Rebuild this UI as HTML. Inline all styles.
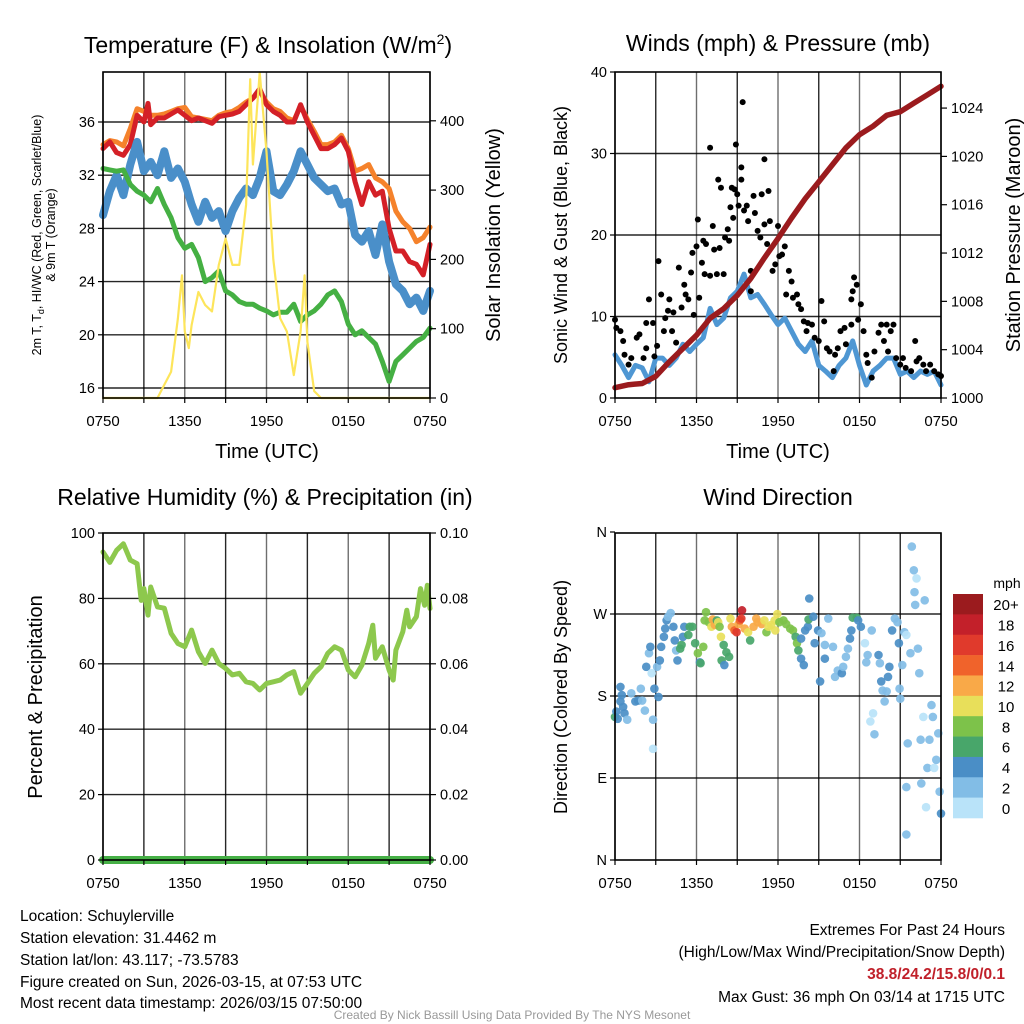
<!DOCTYPE html>
<html><head><meta charset="utf-8">
<style>
html,body{margin:0;padding:0;background:#fff;}
svg{display:block;font-family:"Liberation Sans",Arial,sans-serif;}
</style></head>
<body>
<svg id="fig" width="1024" height="1024" viewBox="0 0 1024 1024" xmlns="http://www.w3.org/2000/svg">
<rect width="1024" height="1024" fill="#fff"/>
<g id="layer-grid"></g>
<g id="layer-data"></g>
<g id="layer-axes"></g>
<text x="268" y="53" font-size="23" text-anchor="middle">Temperature (F) &amp; Insolation (W/m<tspan font-size="14" dy="-9">2</tspan><tspan dy="9">)</tspan></text>
<text x="778" y="51" font-size="23" text-anchor="middle">Winds (mph) &amp; Pressure (mb)</text>
<text x="265" y="505" font-size="23" text-anchor="middle">Relative Humidity (%) &amp; Precipitation (in)</text>
<text x="778" y="505" font-size="23" text-anchor="middle">Wind Direction</text>
<text x="267" y="458" font-size="20" text-anchor="middle">Time (UTC)</text>
<text x="778" y="458" font-size="20" text-anchor="middle">Time (UTC)</text>
<text transform="translate(41,235) rotate(-90)" font-size="12.5" text-anchor="middle">2m T, T<tspan font-size="9" dy="3">d</tspan><tspan dy="-3">, HI/WC (Red, Green, Scarlet/Blue)</tspan></text>
<text transform="translate(55,235) rotate(-90)" font-size="12.5" text-anchor="middle">&amp; 9m T (Orange)</text>
<text transform="translate(500,235) rotate(-90)" font-size="20" text-anchor="middle">Solar Insolation (Yellow)</text>
<text transform="translate(567,235) rotate(-90)" font-size="18" text-anchor="middle">Sonic Wind &amp; Gust (Blue, Black)</text>
<text transform="translate(1020,235) rotate(-90)" font-size="20" text-anchor="middle">Station Pressure (Maroon)</text>
<text transform="translate(42,697) rotate(-90)" font-size="20" text-anchor="middle">Percent &amp; Precipitation</text>
<text transform="translate(567,697) rotate(-90)" font-size="18" text-anchor="middle">Direction (Colored By Speed)</text>
<g font-size="15.5">
<text x="20" y="921">Location: Schuylerville</text>
<text x="20" y="943">Station elevation: 31.4462 m</text>
<text x="20" y="965">Station lat/lon: 43.117; -73.5783</text>
<text x="20" y="987">Figure created on Sun, 2026-03-15, at 07:53 UTC</text>
<text x="20" y="1008">Most recent data timestamp: 2026/03/15 07:50:00</text>
</g>
<g font-size="15.5" text-anchor="end">
<text x="1005" y="935">Extremes For Past 24 Hours</text>
<text x="1005" y="957">(High/Low/Max Wind/Precipitation/Snow Depth)</text>
<text x="1005" y="979" fill="#c0202a" font-weight="bold">38.8/24.2/15.8/0/0.1</text>
<text x="1005" y="1002">Max Gust: 36 mph On 03/14 at 1715 UTC</text>
</g>
<text x="512" y="1019" font-size="12" fill="#999" text-anchor="middle">Created By Nick Bassill Using Data Provided By The NYS Mesonet</text>
</svg>
<script>
const timeLabels = ["0750","1350","1950","0150","0750"];
const timeLabelHours = [0,6,12,18,24];
const halfHours = [0,0.5,1,1.5,2,2.5,3,3.5,4,4.5,5,5.5,6,6.5,7,7.5,8,8.5,9,9.5,10,10.5,11,11.5,12,12.5,13,13.5,14,14.5,15,15.5,16,16.5,17,17.5,18,18.5,19,19.5,20,20.5,21,21.5,22,22.5,23,23.5,24];
const tempHours = [0,0.5,1,1.5,2,2.5,3,3.3,3.5,4,4.5,5,5.5,6,6.5,7,7.5,8,8.5,9,9.5,10,10.5,11,11.5,12,12.5,13,13.5,14,14.5,15,15.5,16,16.5,17,17.5,18,18.5,19,19.5,20,20.5,21,21.5,22,22.5,23,23.5,24];
const temp2m = [34,34.5,33.7,33.5,34.3,36.5,36,37.4,35.8,36.3,36.3,36.6,36.9,36.5,36.1,36.3,36.1,35.9,36.4,36.5,36.6,36.8,37.3,37.8,38.5,37.3,36.8,36.5,36,36,37.3,36,35,34,34,34.3,34.8,33.8,31.5,29.8,31.5,30.5,30.8,28,26.3,26.3,25.5,25.3,24.5,26.8];
const temp9m = [34.3,34.6,34.5,34.2,35.5,37,36.8,36.5,36.5,36.6,36.8,37,37.1,36.4,36.3,36.2,36.1,36.5,36.7,36.8,37.1,37.5,37.8,38.3,37.5,37,36.8,36.3,36.1,37.2,36.2,35.3,34.3,34.3,34.5,35,34,32.3,32.5,32.8,31.8,31.5,31,29.3,28.5,28,27,27.3,28.1];
const windChill = [29,30.8,32,30.5,32.8,34.5,32.3,33,32,33.8,31.8,32.5,31.5,29.8,28.5,30,28.8,29.3,27.8,29.3,30.3,31,30.5,31.8,33.8,30.8,30.5,31.3,32.3,33.8,32.8,31.8,31.3,30.8,31,29.8,30,27.5,27,27.8,26,28.3,25.5,23.8,23.3,22.3,22.8,21.8,23.3];
const dewPoint = [32.5,32.4,32.3,32.4,31.3,30.8,30.5,30,31,29.8,28.8,27.3,26.5,26.8,25.8,24,24.3,24.8,23.3,23,22.5,22.3,22.3,22,21.8,21.5,21.7,21.7,22.3,21,21.5,21.8,22.3,23,23.3,22.5,20.8,20,20.3,19.8,19.3,18,16.5,18,18.5,19,19.5,19.8,20.5];
const solarHours = [0,4,4.5,5,5.5,5.8,6,6.3,6.5,7,7.5,8,8.5,9,9.5,10,10.5,10.8,11,11.5,12,12.5,13,13.5,14,14.5,14.8,15,15.5,16,24];
const solarValues = [0,0,19,38,115,177,96,72,105,153,134,125,192,230,192,192,279,460,337,470,355,200,115,96,33,96,177,81,10,0,0];
const tempTicks = [16,20,24,28,32,36];
const solarTicks = [0,100,200,300,400];

const pressureHours = [0,1,2,3,4,5,6,7,8,9,10,11,12,13,14,15,16,17,18,19,20,21,22,23,24];
const pressureValues = [1000.85,1001.1,1001.2,1001.8,1003.0,1004.1,1005.2,1006.6,1007.4,1008.5,1009.9,1011.6,1013.2,1014.9,1016.5,1017.9,1019.3,1020.7,1021.8,1022.5,1023.4,1023.7,1024.4,1025.1,1025.8];
const windSpeed = [5.3,4,2.5,4,3.7,2,4.9,4.9,4,4.9,6.6,5.7,6.6,7.4,11,9,9.8,12.3,13.1,15.2,12.3,12.7,11.5,10.2,9,9.8,8.2,6.6,5.7,7,4,3.3,2.5,4,4.9,7,4,1.6,3.3,4,4.9,4.9,2.9,3.3,2.5,3.3,2.9,3.3,1.6];
const gustHours = [0,0.1,0.4,0.6,0.7,1,1.2,1.6,1.8,2.1,2.3,2.3,2.5,2.8,2.9,3.1,3.2,3.4,3.6,3.7,3.9,4,4.2,4.3,4.5,4.7,4.9,5.1,5.2,5.4,5.6,5.7,5.8,6,6.1,6.2,6.4,6.5,6.6,6.7,7,7,7.2,7.3,7.5,7.6,7.7,7.8,8,8.1,8.3,8.4,8.5,8.6,8.7,8.8,8.9,9,9.1,9.3,9.3,9.4,9.5,9.7,9.8,10,10,10.2,10.3,10.5,10.7,10.8,11,11,11.2,11.3,11.4,11.6,11.8,12,12.1,12.3,12.5,12.6,12.8,13,13.1,13.4,13.5,13.7,13.9,14.1,14.2,14.5,14.7,15,15.2,15.4,15.6,15.8,16.1,16.2,16.4,16.6,16.9,17,17.4,17.4,17.5,17.6,17.8,17.9,18.1,18.3,18.5,18.6,18.9,19.1,19.4,19.6,19.8,20,20.1,20.3,20.5,20.7,21,21.2,21.4,21.8,22.1,22.2,22.4,22.7,22.9,23.2,23.5,23.8,24];
const gustValues = [9.6,8.6,8.2,7,5.3,4.1,4.9,7.4,7.8,4.9,6.1,9.2,12.1,9.2,5.1,6.4,16.8,12.7,8.2,9.8,10.7,12.1,8.2,10.5,6.8,16,11.1,13.9,12.7,12.1,15.4,17.8,10.2,18.6,21.9,12.3,16.6,19.3,15.2,18.9,15,30.7,21.1,18.2,15.2,26.8,18.4,25.8,15.2,19.7,20.7,19.3,23.4,25.8,22.1,25.6,31.1,25,23.6,26.8,28.3,36.3,23,23.6,21.7,13.1,15.6,24.8,22.7,20.5,19.7,25,21.3,29.3,18.9,25.4,21.7,15.6,16.4,21.1,17.4,17.6,18.6,12.7,15.6,14.3,12.3,12.7,11.5,10.9,9.4,8.2,9.2,9,7.4,7,11.9,9.4,6.1,5.7,3.3,5.3,6.1,8.2,8.6,6.6,9,12.1,13.1,14.8,13.9,9.6,11.5,8.2,5.3,4.3,2.5,5.7,8,9,7,9,5.7,8.2,9,4.9,4.1,4.9,3.7,3.3,7,4.5,4.9,4.1,3.3,4.1,3.3,2.9,2.7];
const windTicks = [0,10,20,30,40];
const pressureTicks = [1000,1004,1008,1012,1016,1020,1024];

const rhHours = [0,0.5,1,1.5,2,2.5,2.8,3,3.3,3.5,4,4.5,5,5.5,6,6.5,7,7.5,8,8.5,9,9.5,10,10.5,11,11.5,12,12.5,13,13.5,14,14.5,15,15.5,16,16.5,17,17.5,18,18.5,19,19.5,19.8,20,20.5,21,21.3,21.5,22,22.3,22.5,23,23.3,23.6,23.8,24];
const rhValues = [94.2,91,94.7,96.7,91.7,90.6,79.4,83,74.9,83.5,77.4,77,69.3,66.2,65.2,70.3,63.7,60.1,64.2,60.1,58.6,56.6,57.1,54.5,54,52,54,54.5,55,56.6,57.6,51,54,57.1,59.1,63.2,65.2,64.2,58.1,56,59.6,66.2,71.8,61.7,65.2,58.1,55,64.2,69.8,76.4,71.3,74.4,83,77.9,84,76.9];
const precipHours = [0,24];
const precipValues = [0,0];
const rhTicks = [0,20,40,60,80,100];
const precipTicks = ["0.00","0.02","0.04","0.06","0.08","0.10"];

const dirHours = [0,0.1,0.2,0.4,0.4,0.5,0.6,0.7,0.9,1.2,1.5,1.7,1.9,2.0,2.2,2.8,2.8,2.9,3.2,2.3,2.5,2.6,2.7,3.1,3.3,3.4,3.6,3.7,3.8,3.9,4.1,4.3,4.4,4.5,4.6,4.8,4.9,5.0,5.1,5.4,5.5,5.7,5.9,6.1,6.25,6.3,6.5,6.6,6.7,6.9,7.1,7.2,7.35,7.5,7.6,7.7,7.8,8.0,7.85,8.05,8.2,8.4,8.5,8.6,8.8,8.95,9.1,9.2,9.35,9.3,9.55,9.8,9.95,10.2,10.4,10.5,10.8,11.0,11.15,11.3,11.5,11.75,11.95,11.8,12.1,12.4,12.6,12.9,13.1,13.3,13.4,13.5,13.7,13.9,13.7,14.0,14.2,14.3,14.25,14.6,14.7,14.95,15.2,15.1,15.45,15.45,15.7,16.05,16.2,16.4,16.7,16.8,17.0,17.15,17.3,17.4,17.5,17.8,17.9,18.1,18.4,18.6,18.5,18.9,19.0,18.8,19.1,19.4,19.5,19.6,19.7,19.85,20.0,20.1,20.2,20.4,20.6,20.8,20.9,20.95,21.0,21.15,21.3,21.45,21.55,21.45,21.45,21.75,21.85,22.0,22.2,22.05,22.1,22.3,22.4,22.5,22.55,22.7,22.8,22.9,23.0,23.15,23.3,23.4,23.5,23.65,23.8,23.9,24.0];
const dirDegrees = [157,163,155,190,174,181,168,161,154,183,174,175,188,175,164,154,122,188,179,212,227,234,205,212,219,234,245,254,263,267,271,256,241,230,219,232,236,245,256,247,256,256,238,227,217,216,234,263,272,261,256,264,258,263,261,256,245,236,219,214,228,223,265,256,252,250,259,263,274,265,254,250,241,256,265,261,259,263,250,256,258,263,270,252,261,263,259,254,252,245,238,230,221,214,243,252,256,287,264,267,238,252,249,196,236,221,265,234,201,208,205,212,223,232,243,252,266,266,263,256,238,225,217,252,161,152,138,225,216,196,186,174,185,201,212,252,265,261,238,188,177,214,250,247,128,80,28,227,344,318,309,294,280,232,205,132,84,157,285,58,101,132,170,157,101,110,139,75,51];
const dirSpeeds = [6,4,4,4,4,4,4,4,2,2,4,4,2,2,2,2,0,4,4,4,2,4,0,2,4,4,4,4,4,2,2,4,4,2,4,6,6,4,4,6,6,6,6,8,4,6,8,8,8,8,10,12,12,6,10,8,10,6,6,4,6,6,10,12,14,16,12,14,18,16,12,10,6,12,12,12,12,10,8,10,10,10,10,10,8,8,8,8,8,6,8,6,4,4,4,4,4,4,6,4,4,4,2,4,2,4,2,2,2,2,4,2,2,2,4,4,6,6,4,4,0,2,2,2,0,0,2,4,2,4,2,2,2,4,4,4,2,2,4,2,2,2,2,0,2,2,2,2,2,2,0,2,2,2,2,2,2,0,2,0,2,2,2,2,0,2,2,2,4];
const dirTickLabels = ["N","E","S","W","N"];
const dirTickDegrees = [0,90,180,270,360];
const speedBinLabels = ["0","2","4","6","8","10","12","14","16","18","20+"];
const speedBinColors = ["#b9e3f9","#82bde6","#4a8ec6","#48a66a","#7dc24a","#e8df5a","#f9a948","#f0632b","#e03a2c","#c3202a","#9b1b1e"];

const NS="http://www.w3.org/2000/svg";
const gGrid=document.getElementById('layer-grid'), gData=document.getElementById('layer-data'), gAx=document.getElementById('layer-axes');
function mk(tag,attrs,parent){const e=document.createElementNS(NS,tag);for(const k in attrs)e.setAttribute(k,attrs[k]);parent.appendChild(e);return e;}

const P1={x0:103,x1:430,y0:72,y1:398}, P2={x0:615,x1:941,y0:72,y1:398}, P3={x0:103,x1:430,y0:533,y1:860}, P4={x0:615,x1:941,y0:533,y1:860};
function xs(P){return h=>P.x0+h/24*(P.x1-P.x0);}
const x1s=xs(P1), x2s=xs(P2), x3s=xs(P3), x4s=xs(P4);
const yTemp=t=>388-(t-16)*13.3;
const ySolar=s=>398-s*0.693;
const yWind=w=>398-w*8.15;
const yPres=p=>398-(p-1000)*12.08;
const yRH=r=>860-r*3.27;
const yPrecip=p=>860-p*3270;
const yDir=d=>860-d*328/360;

function panelFrame(P,name,xsF,hGridYs){
  for(let i=0;i<=8;i++){
    const x=xsF(i*3);
    const l=mk('line',{x1:x,y1:P.y0,x2:x,y2:P.y1,stroke:(i%2?'#000':'#555'),'stroke-width':1.4,'stroke-opacity':0.85},gGrid);
    
    
    const t=mk('line',{x1:x,y1:P.y1,x2:x,y2:P.y1+5,stroke:'#000','stroke-width':1.2},gAx);
    
    
  }
  hGridYs.forEach(y=>{
    const l=mk('line',{x1:P.x0,y1:y,x2:P.x1,y2:y,stroke:'#000','stroke-width':1.4,'stroke-opacity':0.85},gGrid);
    
    
  });
  const r=mk('rect',{x:P.x0,y:P.y0,width:P.x1-P.x0,height:P.y1-P.y0,fill:'none',stroke:'#000','stroke-width':1.6},gAx);
  
  
  timeLabels.forEach((s,i)=>{
    const t=mk('text',{x:xsF(timeLabelHours[i]),y:P.y1+28,'font-size':15,'text-anchor':'middle'},gAx);
    t.textContent=s;
    
    
  });
}
function yTicks(P,name,vals,labels,yF,side){
  vals.forEach((v,i)=>{
    const y=yF(v);
    const xa= side==='left'?P.x0:P.x1;
    const tk=mk('line',{x1:xa,y1:y,x2:side==='left'?xa-5:xa+6,y2:y,stroke:'#000','stroke-width':1.2},gAx);
    
    
    const t=mk('text',{x:side==='left'?xa-8:xa+10,y:y+5,'font-size':14.5,'text-anchor':side==='left'?'end':'start'},gAx);
    t.textContent=labels[i];
    
    
  });
}
function line(xF,yF,hs,vs,color,w,name){
  const d=hs.map((h,i)=>(i?'L':'M')+xF(h).toFixed(1)+' '+yF(vs[i]).toFixed(1)).join(' ');
  const p=mk('path',{d:d,fill:'none',stroke:color,'stroke-width':w,'stroke-linejoin':'round','stroke-linecap':'round'},gData);
  
  
}

// Panel 1
panelFrame(P1,'temp',x1s,tempTicks.map(yTemp));
yTicks(P1,'temp',tempTicks,tempTicks.map(String),yTemp,'left');
yTicks(P1,'solar',solarTicks,solarTicks.map(String),ySolar,'right');
line(x1s,yTemp,halfHours,temp9m,'#f5822b',5,'temp-9m-line');
line(x1s,yTemp,tempHours,temp2m,'#d42027',5,'temp-2m-line');
line(x1s,yTemp,halfHours,windChill,'#4a8fc9',8,'wind-chill-line');
line(x1s,yTemp,halfHours,dewPoint,'#45b043',5,'dewpoint-line');
line(x1s,ySolar,solarHours,solarValues,'#fde55b',2.2,'solar-line');

// Panel 2
panelFrame(P2,'wind',x2s,[10,20,30].map(yWind));
yTicks(P2,'wind',windTicks,windTicks.map(String),yWind,'left');
yTicks(P2,'pressure',pressureTicks,pressureTicks.map(String),yPres,'right');
line(x2s,yWind,halfHours,windSpeed,'#4f97d3',5,'wind-speed-line');
gustHours.forEach((h,i)=>{
  const c=mk('circle',{cx:x2s(h),cy:yWind(gustValues[i]),r:3,fill:'#000'},gData);
  
  
});
line(x2s,yPres,pressureHours,pressureValues,'#9b1b1e',5.5,'pressure-line');

// Panel 3
panelFrame(P3,'rh',x3s,[20,40,60,80].map(yRH));
yTicks(P3,'rh',rhTicks,rhTicks.map(String),yRH,'left');
yTicks(P3,'precip',precipTicks.map(Number),precipTicks,yPrecip,'right');
line(x3s,yRH,rhHours,rhValues,'#8dc84d',5,'rh-line');
line(x3s,yPrecip,precipHours,precipValues,'#46b046',8,'precip-line');

// Panel 4
panelFrame(P4,'dir',x4s,[90,180,270].map(yDir));
yTicks(P4,'dir',dirTickDegrees,dirTickLabels,yDir,'left');
dirHours.forEach((h,i)=>{
  const sp = dirSpeeds[i]===undefined ? 2 : dirSpeeds[i];
  const bin=Math.min(10,Math.round(sp/2));
  const c=mk('circle',{cx:x4s(h),cy:yDir(dirDegrees[i]),r:4.3,fill:speedBinColors[bin],'fill-opacity':0.92},gData);
  
  
});
// colorbar
const cbTop=594, cbH=224/11;
speedBinLabels.forEach((lab,i)=>{
  const k=10-i;
  const r=mk('rect',{x:953,y:cbTop+i*cbH,width:30,height:cbH+0.3,fill:speedBinColors[k]},gAx);
  
  
  const t=mk('text',{x:1006,y:cbTop+i*cbH+cbH/2+6,'font-size':15,'text-anchor':'middle'},gAx);
  t.textContent=speedBinLabels[k];
  
  
});
const mph=mk('text',{x:1007,y:588,'font-size':14,'text-anchor':'middle'},gAx);
mph.textContent='mph';


</script>
</body></html>
